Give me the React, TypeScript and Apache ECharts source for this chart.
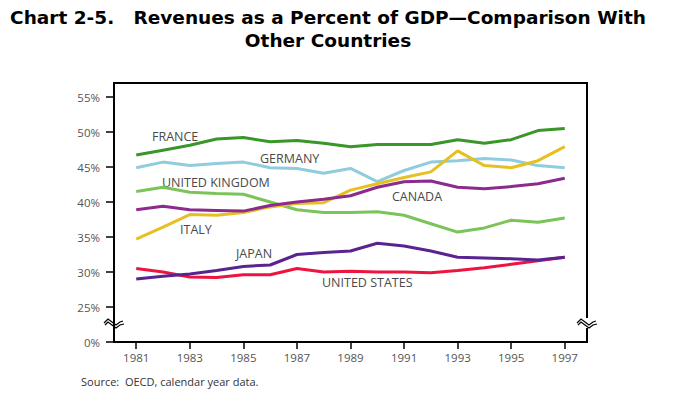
import React, { useEffect, useRef } from "react";
import * as echarts from "echarts";

const years = [1981, 1982, 1983, 1984, 1985, 1986, 1987, 1988, 1989, 1990, 1991, 1992, 1993, 1994, 1995, 1996, 1997];
const xTickYears = [1981, 1983, 1985, 1987, 1989, 1991, 1993, 1995, 1997];
const yTickValues = [20, 25, 30, 35, 40, 45, 50, 55];

const france = [46.7, 47.4, 48.1, 49.0, 49.2, 48.6, 48.8, 48.4, 47.9, 48.2, 48.2, 48.2, 48.9, 48.4, 48.9, 50.2, 50.5];
const germany = [44.9, 45.7, 45.2, 45.5, 45.7, 44.9, 44.8, 44.1, 44.8, 42.9, 44.5, 45.7, 45.9, 46.2, 46.0, 45.2, 44.9];
const unitedKingdom = [41.5, 42.1, 41.4, 41.2, 41.1, 40.0, 38.9, 38.5, 38.5, 38.6, 38.1, 36.9, 35.7, 36.3, 37.4, 37.1, 37.7];
const canada = [38.9, 39.4, 38.9, 38.8, 38.7, 39.5, 40.0, 40.4, 40.9, 42.1, 42.9, 43.0, 42.1, 41.9, 42.2, 42.6, 43.4];
const italy = [34.7, 36.4, 38.2, 38.1, 38.5, 39.3, 39.8, 39.9, 41.7, 42.6, 43.5, 44.3, 47.3, 45.2, 44.9, 45.9, 47.9];
const japan = [29.0, 29.4, 29.7, 30.2, 30.8, 31.0, 32.5, 32.8, 33.0, 34.1, 33.7, 33.0, 32.1, 32.0, 31.9, 31.7, 32.1];
const unitedStates = [30.5, 30.0, 29.3, 29.2, 29.6, 29.6, 30.5, 30.0, 30.1, 30.0, 30.0, 29.9, 30.2, 30.6, 31.1, 31.6, 32.1];

const seriesDefs = [
  { name: "FRANCE", data: france, color: "#3a9628" },
  { name: "GERMANY", data: germany, color: "#90cce0" },
  { name: "UNITED KINGDOM", data: unitedKingdom, color: "#7cc35a" },
  { name: "ITALY", data: italy, color: "#e6c020" },
  { name: "CANADA", data: canada, color: "#8c2a8e" },
  { name: "UNITED STATES", data: unitedStates, color: "#ee1440" },
  { name: "JAPAN", data: japan, color: "#5a2490" },
];

const labelPositions = [
  { text: "FRANCE", x: 152, y: 136 },
  { text: "GERMANY", x: 260, y: 158 },
  { text: "UNITED KINGDOM", x: 162, y: 182 },
  { text: "CANADA", x: 392, y: 196 },
  { text: "ITALY", x: 180, y: 229 },
  { text: "JAPAN", x: 236, y: 253 },
  { text: "UNITED STATES", x: 322, y: 282 },
];

const LABEL_FONT = "'Open Sans', sans-serif";
const TITLE_FONT = "bold 18.5px 'DejaVu Sans', sans-serif";

function breakMark(cx: number, cy: number) {
  return {
    type: "group",
    children: [
      { type: "rect", shape: { x: cx - 3, y: cy - 5, width: 6, height: 10 }, style: { fill: "#fff" } },
      {
        type: "polyline",
        shape: { points: [[cx - 10, cy], [cx - 6, cy - 4], [cx - 2, cy - 1], [cx + 2, cy + 2], [cx + 6, cy - 1], [cx + 9, cy - 2]] },
        style: { stroke: "#000", lineWidth: 1.2, fill: "none" },
      },
      {
        type: "polyline",
        shape: { points: [[cx - 9, cy + 2], [cx - 6, cy - 1], [cx - 2, cy + 2], [cx + 2, cy + 5], [cx + 6, cy + 2], [cx + 10, cy + 1]] },
        style: { stroke: "#000", lineWidth: 1.2, fill: "none" },
      },
    ],
  };
}

export default function App() {
  const ref = useRef<HTMLDivElement>(null);
  useEffect(() => {
    if (!ref.current) return;
    const chart = echarts.init(ref.current, null, { renderer: "svg" });
    const option = {
      animation: false,
      backgroundColor: "#fff",
      grid: {
        left: 114,
        right: 90,
        top: 83,
        bottom: 54,
        show: true,
        borderColor: "#000",
        borderWidth: 2,
        backgroundColor: "transparent",
      },
      xAxis: {
        type: "value",
        min: 1980.17,
        max: 1997.83,
        axisLine: { show: true, lineStyle: { color: "#000", width: 2 } },
        axisTick: { show: true, customValues: xTickYears, length: 7, lineStyle: { color: "#000", width: 1.5 } },
        axisLabel: {
          customValues: xTickYears,
          formatter: (v: number) => String(v),
          color: "#555",
          fontSize: 11.5,
          fontFamily: LABEL_FONT,
          margin: 9,
        },
        splitLine: { show: false },
      },
      yAxis: {
        type: "value",
        min: 20,
        max: 57,
        axisLine: { show: true, lineStyle: { color: "#000", width: 2 } },
        axisTick: { show: true, customValues: yTickValues, length: 8, lineStyle: { color: "#000", width: 1.5 } },
        axisLabel: {
          customValues: yTickValues,
          formatter: (v: number) => (v === 20 ? "0%" : v + "%"),
          color: "#555",
          fontSize: 11.5,
          fontFamily: LABEL_FONT,
          margin: 14,
        },
        splitLine: { show: false },
      },
      series: seriesDefs.map((s) => ({
        name: s.name,
        type: "line",
        data: years.map((y, i) => [y, s.data[i]]),
        symbol: "none",
        lineStyle: { color: s.color, width: 3 },
        itemStyle: { color: s.color },
      })),
      graphic: [
        {
          type: "text",
          x: 328,
          y: 17,
          style: { text: "Chart 2-5.   Revenues as a Percent of GDP\u2014Comparison With", font: TITLE_FONT, fill: "#000", textAlign: "center", textVerticalAlign: "middle" },
        },
        {
          type: "text",
          x: 328,
          y: 40,
          style: { text: "Other Countries", font: TITLE_FONT, fill: "#000", textAlign: "center", textVerticalAlign: "middle" },
        },
        ...labelPositions.map((l) => ({
          type: "text",
          x: l.x,
          y: l.y,
          style: { text: l.text, font: `12.5px ${LABEL_FONT}`, fill: "#4a4a4a", textAlign: "left", textVerticalAlign: "middle" },
        })),
        {
          type: "text",
          x: 81,
          y: 381,
          style: { text: "Source:  OECD, calendar year data.", font: `11px ${LABEL_FONT}`, fill: "#333", textAlign: "left", textVerticalAlign: "middle" },
        },
        breakMark(114, 323),
        breakMark(587, 323),
      ],
    };
    chart.setOption(option as any);
    return () => chart.dispose();
  }, []);
  return <div ref={ref} style={{ position: "absolute", left: 0, top: 0, width: 677, height: 396 }} />;
}
